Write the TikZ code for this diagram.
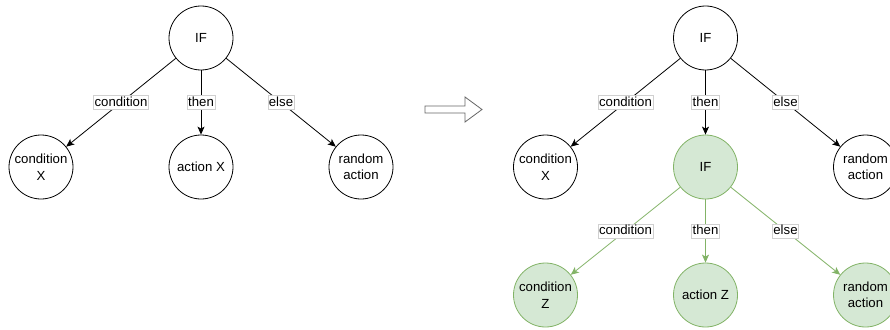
\documentclass[tikz,border=0pt]{standalone}
\usepackage{fontspec}
\setmainfont{Liberation Sans}
\usetikzlibrary{arrows.meta}
\definecolor{leaffill}{HTML}{D5E8D4}
\definecolor{leafdraw}{HTML}{82B366}
\definecolor{lblframe}{HTML}{D0D0D0}
\begin{document}
\begin{tikzpicture}[x=1pt,y=-1pt,
  every node/.style={font=\fontsize{13.2}{16.5}\selectfont},
  state/.style={draw=black, line width=0.8pt, circle, minimum size=64pt, inner sep=0pt, align=center, fill=white},
  greenstate/.style={state, draw=leafdraw, fill=leaffill},
  arr/.style={draw=black, line width=0.8pt, -{Stealth[length=8pt,width=7pt,inset=2pt]}},
  greenarr/.style={arr, draw=leafdraw, -{Stealth[length=8pt,width=7pt,inset=2pt,fill=leafdraw]}},
  lbl/.style={fill=white, draw=lblframe, line width=0.5pt, inner sep=1pt, text height=9.5pt, text depth=2.5pt}
]
\clip (0,0) rectangle (890,329);
\fill[white] (0,0) rectangle (890,329);

% original tree
\node[state] (if1) at (201,38) {IF};
\node[state] (cx1) at (41,167) {condition\\X};
\node[state] (ax) at (201,167) {action X};
\node[state] (ra1) at (361,167) {random\\action};
\draw[arr] (if1) -- node[lbl]{condition} (cx1);
\draw[arr] (if1) -- node[lbl]{then} (ax);
\draw[arr] (if1) -- node[lbl]{else} (ra1);

% transformation arrow
\draw[draw=black!60, line width=0.8pt, fill=white]
  (425,106) -- (465,106) -- (465,97) -- (482,109.5) -- (465,122) -- (465,113) -- (425,113) -- cycle;

% nested tree
\node[state] (if2) at (705.5,38) {IF};
\node[state] (cx2) at (545.5,167) {condition\\X};
\node[greenstate] (if3) at (705.5,167) {IF};
\node[state] (ra2) at (865.5,167) {random\\action};
\node[greenstate] (cz) at (545.5,295) {condition\\Z};
\node[greenstate] (az) at (705.5,295) {action Z};
\node[greenstate] (ra3) at (865.5,295) {random\\action};
\draw[arr] (if2) -- node[lbl]{condition} (cx2);
\draw[arr] (if2) -- node[lbl]{then} (if3);
\draw[arr] (if2) -- node[lbl]{else} (ra2);
\draw[greenarr] (if3) -- node[lbl]{condition} (cz);
\draw[greenarr] (if3) -- node[lbl]{then} (az);
\draw[greenarr] (if3) -- node[lbl]{else} (ra3);
\end{tikzpicture}
\end{document}
